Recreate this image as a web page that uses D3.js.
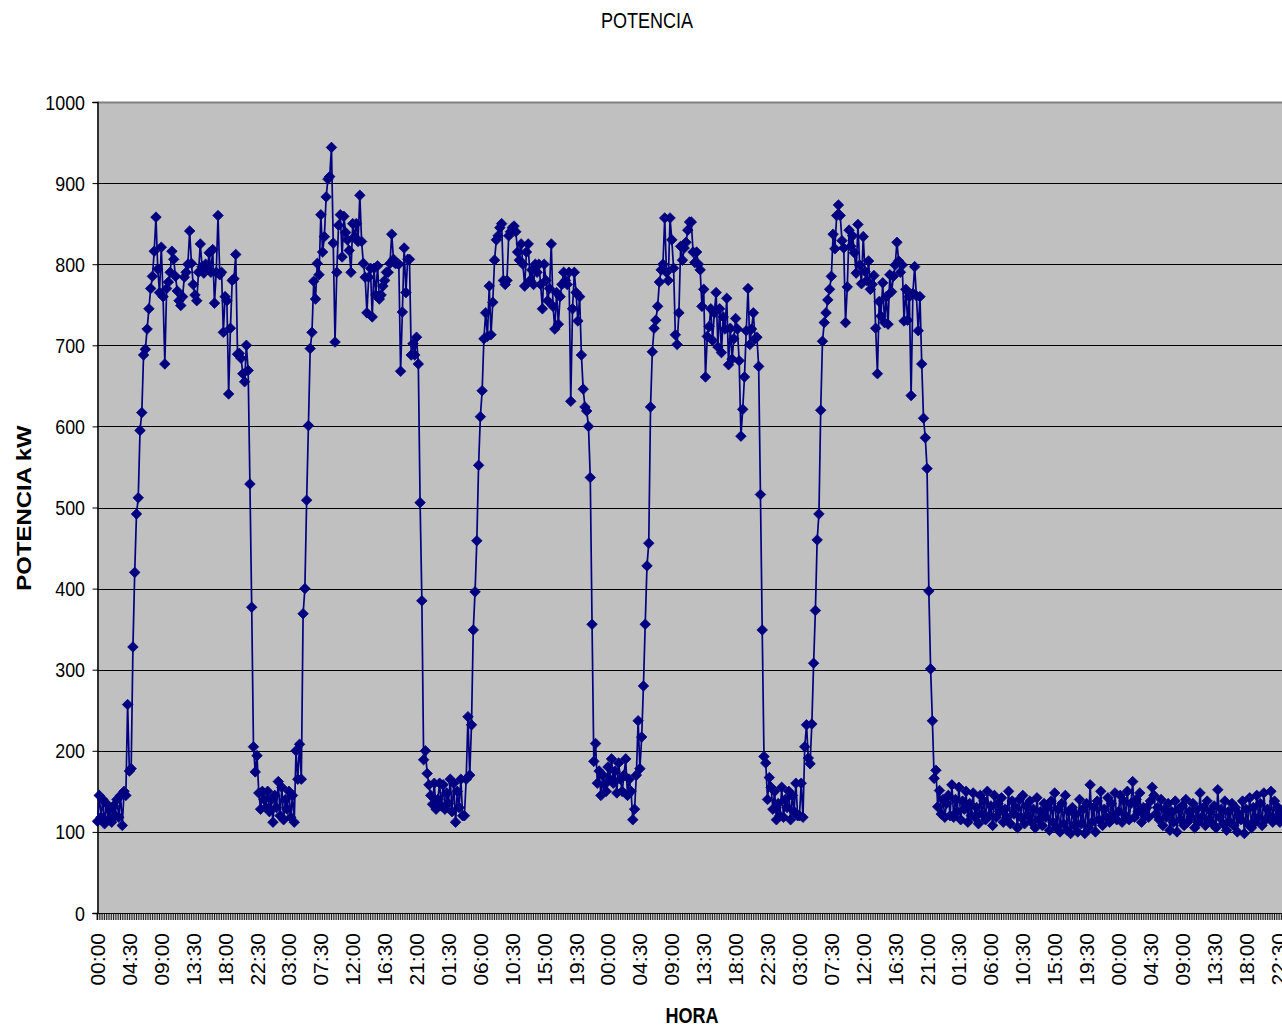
<!DOCTYPE html>
<html>
<head>
<meta charset="utf-8">
<script src="https://cdn.jsdelivr.net/npm/d3@7"></script>
<style>
  html, body { margin: 0; padding: 0; background: #ffffff; }
  svg { display: block; }
  text { font-family: "Liberation Sans", Arial, sans-serif; fill: #000; }
</style>
</head>
<body>
<svg id="chart" width="1282" height="1027"></svg>
<script>
// ---------------- DATA (15-minute readings, kW) ----------------
const chartTitle = "POTENCIA";
const yTitle = "POTENCIA kW";
const xTitle = "HORA";

const tickLabels = [
  "00:00","04:30","09:00","13:30","18:00","22:30","03:00","07:30","12:00","16:30","21:00","01:30","06:00","10:30","15:00","19:30",
  "00:00","04:30","09:00","13:30","18:00","22:30","03:00","07:30","12:00","16:30","21:00","01:30","06:00","10:30","15:00","19:30",
  "00:00","04:30","09:00","13:30","18:00","22:30"
];
const yTicks = [0,100,200,300,400,500,600,700,800,900,1000];

const day1 = [113,145,118,140,110,135,115,128,112,132,
  120,140,118,145,108,150,145,257,175,178,
  328,420,492,512,595,617,688,695,720,745,
  770,785,816,858,794,765,821,760,677,770,
  778,790,816,806,785,767,755,749,760,784,
  790,800,841,801,775,762,755,790,825,797,
  789,800,795,814,790,818,752,790,860,787,
  790,716,760,755,640,721,780,782,812,689,
  690,684,665,655,700,669,529,377,205,174,
  194,148,128,150,140,130];
const day2 = [150,125,140,112,145,130,162,120,155,115,
  140,128,150,118,145,112,200,165,208,165,
  369,400,509,601,696,716,779,757,801,787,
  861,815,834,883,905,908,944,826,704,790,
  848,861,809,859,839,830,817,790,850,834,
  850,828,885,828,801,784,740,784,795,735,
  795,762,798,757,762,773,780,790,790,801,
  837,806,801,801,800,668,741,820,765,806,
  806,688,702,688,710,677,506,385,189,200,
  172,158,145,134,160,128];
const day3 = [140,160,132,158,128,148,135,165,125,160,
  112,150,130,165,120,120,165,242,170,232,
  349,396,459,552,612,644,708,740,711,773,
  713,753,805,830,835,845,850,780,775,780,
  835,840,845,847,840,815,805,825,800,773,
  815,825,780,793,775,800,790,800,775,745,
  800,780,755,770,825,748,720,765,726,760,
  775,790,780,775,790,631,745,790,765,730,
  760,688,646,624,619,600,537,356,187,209,
  160,175,145,170,158,150];
const day4 = [180,165,190,160,175,148,185,165,150,170,
  190,145,165,150,115,128,170,237,178,217,
  280,356,428,456,624,692,721,731,748,778,
  793,800,857,790,780,857,830,795,713,701,
  740,822,805,820,827,842,852,852,815,802,
  815,800,793,748,769,661,711,723,745,706,
  740,765,698,745,691,735,720,758,676,721,
  683,708,733,720,681,588,621,661,718,770,
  701,720,740,708,710,674,516,349,193,185,
  140,167,155,128,150,115];
const day5 = [135,120,155,118,140,130,150,115,145,125,
  160,120,120,160,118,205,232,191,184,233,
  308,373,460,492,620,705,728,740,756,769,
  785,837,819,860,873,860,829,820,728,772,
  842,822,835,814,789,849,799,776,834,791,
  780,804,769,775,786,721,665,754,736,777,
  728,760,726,787,766,785,799,827,804,790,
  799,730,769,731,760,638,764,797,761,718,
  760,677,610,586,548,397,301,237,166,176,
  131,151,122,140,118,135];
const day6 = [145,120,158,118,140,125,155,115,138,128,
  150,112,135,120,148,118,130,110,145,122,
  138,115,150,120,132,108,145,118,135,125,
  142,112,128,118,150,110,138,122,130,105,
  140,118,145,110,132,120,138,112,128,105,
  142,115,125,108,135,118,130,102,138,112,
  148,105,128,100,135,110,145,102,125,98,
  130,108,122,100,140,110,128,98,135,105,
  158,112,130,100,138,115,150,108,128,118,
  142,112,135,120,148,115];
const day7 = [125,145,112,138,120,150,115,135,162,118,
  140,125,148,112,130,120,130,118,138,155,
  145,122,130,115,140,108,128,118,135,102,
  125,112,138,100,128,115,132,108,140,112,
  125,118,135,105,128,112,148,118,130,108,
  138,115,125,110,132,105,152,118,128,110,
  138,102,125,112,135,108,130,100,122,115,
  138,98,128,110,142,105,130,112,145,118,
  135,108,148,115,128,120,150,112,138,118,
  130,112,125,128,118,130];

// ---------------- LAYOUT ----------------
const values = [].concat(day1, day2, day3, day4, day5, day6, day7);
const N = values.length;
const labelEvery = 18;
const plotLeft = 97, plotTop = 102, plotBottom = 913;
const step = 1.7726;
const plotRight = 96.6 + N * step;

const svg = d3.select("#chart");

const x = d3.scaleBand()
  .domain(d3.range(N))
  .range([96.6, plotRight])
  .paddingInner(0).paddingOuter(0);
const cx = i => x(i) + x.bandwidth() / 2;

const y = d3.scaleLinear().domain([0, 1000]).range([plotBottom, plotTop]);

// plot background
svg.append("rect")
  .attr("x", plotLeft).attr("y", plotTop)
  .attr("width", plotRight - plotLeft).attr("height", plotBottom - plotTop)
  .attr("fill", "#c0c0c0");

// gridlines
svg.append("g").selectAll("line")
  .data(yTicks.filter(v => v > 0 && v < 1000))
  .join("line")
  .attr("x1", plotLeft).attr("x2", plotRight)
  .attr("y1", d => Math.round(y(d)) + 0.5).attr("y2", d => Math.round(y(d)) + 0.5)
  .attr("stroke", "#000").attr("stroke-width", 1.2);

// top border (grey)
svg.append("line")
  .attr("x1", plotLeft).attr("x2", plotRight)
  .attr("y1", plotTop + 0.5).attr("y2", plotTop + 0.5)
  .attr("stroke", "#808080").attr("stroke-width", 2);

// Y axis
const yAxis = d3.axisLeft(y).tickValues(yTicks).tickSize(5).tickFormat("");
const gy = svg.append("g").attr("transform", `translate(${plotLeft + 0.5},0)`).call(yAxis);
gy.select(".domain").attr("stroke", "#000").attr("stroke-width", 1.5);
gy.selectAll(".tick line").attr("stroke", "#000");

svg.append("g").selectAll("text")
  .data(yTicks)
  .join("text")
  .attr("transform", d => `translate(85,${y(d) + 7.5}) scale(0.85,1)`)
  .attr("text-anchor", "end")
  .attr("font-size", 21)
  .text(d => d);

// X axis: a tick at every category, labels every 18
const xAxis = d3.axisBottom(x)
  .tickValues(d3.range(N))
  .tickSize(7)
  .tickFormat("");
const gx = svg.append("g").attr("transform", `translate(0,${plotBottom})`).call(xAxis);
gx.select(".domain").attr("stroke", "#000").attr("stroke-width", 1);
gx.selectAll(".tick line").attr("stroke", "#000").attr("stroke-width", 0.9);

svg.append("g").selectAll("text")
  .data(tickLabels)
  .join("text")
  .attr("transform", (d, k) => `translate(${cx(k * labelEvery) + 7.5},933) rotate(-90)`)
  .attr("text-anchor", "end")
  .attr("font-size", 21)
  .text(d => d);

// series line
const line = d3.line().x((d, i) => cx(i)).y(d => y(d));
svg.append("path")
  .datum(values)
  .attr("d", line)
  .attr("fill", "none")
  .attr("stroke", "#000080")
  .attr("stroke-width", 1.7)
  .attr("stroke-linejoin", "round");

// diamond markers
const sym = d3.symbol().type(d3.symbolSquare).size(56);
svg.append("g").selectAll("path")
  .data(values)
  .join("path")
  .attr("d", sym)
  .attr("transform", (d, i) => `translate(${cx(i)},${y(d)}) rotate(45)`)
  .attr("fill", "#000080")
  .attr("stroke", "#000080")
  .attr("stroke-width", 0.7);

// titles
svg.append("text")
  .attr("transform", "translate(647,28) scale(0.82,1)")
  .attr("text-anchor", "middle")
  .attr("font-size", 22)
  .text(chartTitle);

svg.append("text")
  .attr("transform", "translate(31,508) rotate(-90) scale(1.14,1)")
  .attr("text-anchor", "middle")
  .attr("font-size", 21)
  .attr("font-weight", "bold")
  .text(yTitle);

svg.append("text")
  .attr("transform", "translate(692,1023) scale(0.82,1)")
  .attr("text-anchor", "middle")
  .attr("font-size", 22)
  .attr("font-weight", "bold")
  .text(xTitle);
</script>
</body>
</html>
